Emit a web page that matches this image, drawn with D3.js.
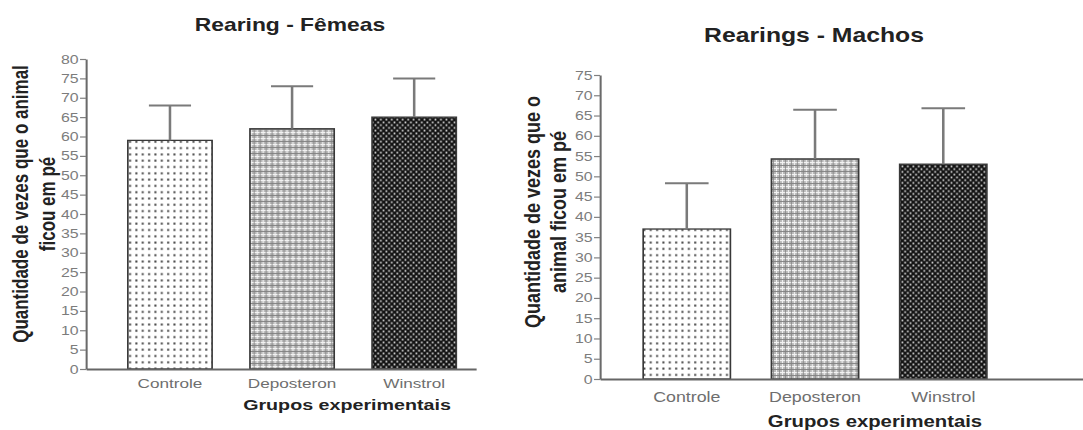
<!DOCTYPE html>
<html>
<head>
<meta charset="utf-8">
<script src="https://cdn.jsdelivr.net/npm/d3@7"></script>
<style>
    body { margin: 0; background: #fff; }
    svg { display: block; font-family: "Liberation Sans", Arial, sans-serif; }
</style>
</head>
<body>
<div id="chartContainer"></div>
<script>
// Data
const groups = ["Controle", "Deposteron", "Winstrol"];
const femeasMeans = [59, 62, 65];
const femeasErrors = [9, 11, 10];
const machosMeans = [37, 54.3, 53];
const machosErrors = [11.3, 12.1, 13.8];
const femeasTicks = d3.range(0, 81, 5);
const machosTicks = d3.range(0, 76, 5);
const fills = ["url(#pDots)", "url(#pGrid)", "url(#pCheck)"];

// The original picture is stretched sideways, so draw in a narrower
// space and let the viewBox widen it.
const width = 1083;
const height = 430;
const sx = 1.27;
const vw = width / sx;

const svg = d3.select("#chartContainer").append("svg")
    .attr("width", width)
    .attr("height", height)
    .attr("viewBox", `0 0 ${vw} ${height}`)
    .attr("preserveAspectRatio", "none");

// Fill patterns for the three groups
const defs = svg.append("defs");

const dots = defs.append("pattern")
    .attr("id", "pDots").attr("patternUnits", "userSpaceOnUse")
    .attr("width", 5).attr("height", 6.3);
dots.append("rect").attr("width", 5).attr("height", 6.3).attr("fill", "#fff");
dots.append("rect").attr("x", 1.6).attr("y", 2.2).attr("width", 1.6).attr("height", 2).attr("fill", "#474747");

const grid = defs.append("pattern")
    .attr("id", "pGrid").attr("patternUnits", "userSpaceOnUse")
    .attr("width", 4.7).attr("height", 6);
grid.append("rect").attr("width", 4.7).attr("height", 6).attr("fill", "#b8b8b8");
grid.append("rect").attr("x", 0).attr("width", 0.8).attr("height", 6).attr("fill", "#f2f2f2");
grid.append("rect").attr("y", 0).attr("width", 4.7).attr("height", 1.1).attr("fill", "#f2f2f2");
grid.append("rect").attr("x", 2.4).attr("width", 0.6).attr("height", 6).attr("fill", "#808080");
grid.append("rect").attr("y", 3.1).attr("width", 4.7).attr("height", 0.9).attr("fill", "#808080");

const check = defs.append("pattern")
    .attr("id", "pCheck").attr("patternUnits", "userSpaceOnUse")
    .attr("width", 4.3).attr("height", 5.5);
check.append("rect").attr("width", 4.3).attr("height", 5.5).attr("fill", "#141414");
check.append("rect").attr("x", 0.4).attr("y", 0.5).attr("width", 1.3).attr("height", 1.8).attr("fill", "#dcdcdc");
check.append("rect").attr("x", 2.55).attr("y", 3.25).attr("width", 1.3).attr("height", 1.8).attr("fill", "#dcdcdc");

function drawPanel(p) {
    const g = svg.append("g");

    const x = d3.scaleBand()
        .domain(groups)
        .range(p.xRange)
        .paddingInner(p.padInner)
        .paddingOuter(p.padOuter)
        .align(p.align);

    const y = d3.scaleLinear()
        .domain([0, d3.max(p.ticks)])
        .range(p.yRange);

    // Bars
    g.append("g")
        .selectAll("rect")
        .data(p.means)
        .join("rect")
        .attr("x", (d, i) => x(groups[i]))
        .attr("y", d => y(d))
        .attr("width", x.bandwidth())
        .attr("height", d => y(0) - y(d))
        .attr("fill", (d, i) => fills[i])
        .attr("stroke", "#383838")
        .attr("stroke-width", 1.3);

    // Upper error bars
    const err = g.append("g")
        .attr("stroke", "#7a7a7a")
        .attr("stroke-width", 2)
        .selectAll("g")
        .data(p.means)
        .join("g");
    err.append("line")
        .attr("x1", (d, i) => x(groups[i]) + x.bandwidth() / 2)
        .attr("x2", (d, i) => x(groups[i]) + x.bandwidth() / 2)
        .attr("y1", d => y(d))
        .attr("y2", (d, i) => y(d + p.errors[i]));
    err.append("line")
        .attr("x1", (d, i) => x(groups[i]) + x.bandwidth() / 4)
        .attr("x2", (d, i) => x(groups[i]) + x.bandwidth() * 3 / 4)
        .attr("y1", (d, i) => y(d + p.errors[i]))
        .attr("y2", (d, i) => y(d + p.errors[i]));

    // Y axis
    const yAxis = g.append("g")
        .attr("transform", `translate(${p.xRange[0]},0)`)
        .call(d3.axisLeft(y).tickValues(p.ticks).tickSize(4.7).tickSizeOuter(0).tickPadding(1.2));
    yAxis.select(".domain").attr("stroke", "#6a6a6a").attr("stroke-width", 1.6);
    yAxis.selectAll(".tick line").attr("stroke", "#808080").attr("stroke-width", 1.2);
    yAxis.selectAll(".tick text")
        .attr("fill", "#7c7c7c")
        .style("font-size", p.tickSize + "px")
        .style("font-family", "'Liberation Sans', Arial, sans-serif");

    // X axis (just the baseline and the group names)
    const xAxis = g.append("g")
        .attr("transform", `translate(0,${y(0)})`)
        .call(d3.axisBottom(x).tickSize(0).tickSizeOuter(0).tickPadding(p.xLabelPad));
    xAxis.select(".domain").attr("stroke", "#666").attr("stroke-width", 2);
    xAxis.selectAll(".tick text")
        .attr("fill", "#6e6e6e")
        .style("font-size", p.xLabelSize + "px")
        .style("font-family", "'Liberation Sans', Arial, sans-serif");

    // Titles
    g.append("text")
        .attr("x", p.titleX)
        .attr("y", p.titleY)
        .attr("text-anchor", "middle")
        .attr("font-weight", "bold")
        .attr("font-size", p.titleSize)
        .attr("fill", "#222")
        .text(p.title);

    g.append("text")
        .attr("x", p.xTitleX)
        .attr("y", p.xTitleY)
        .attr("text-anchor", "middle")
        .attr("font-weight", "bold")
        .attr("font-size", p.xTitleSize)
        .attr("fill", "#222")
        .text("Grupos experimentais");

    g.append("g")
        .selectAll("text")
        .data(p.yTitle)
        .join("text")
        .attr("transform", (d, i) => `translate(${p.yTitleX[i]},${p.yTitleY}) rotate(-90)`)
        .attr("text-anchor", "middle")
        .attr("font-weight", "bold")
        .attr("font-size", p.yTitleSize)
        .attr("fill", "#222")
        .text(d => d);
}

drawPanel({
    means: femeasMeans,
    errors: femeasErrors,
    ticks: femeasTicks,
    xRange: [86 / sx, 476 / sx],
    padInner: 0.31,
    padOuter: 0.252,
    align: 0.68,
    yRange: [369, 59],
    tickSize: 12.5,
    xLabelSize: 13.5,
    xLabelPad: 9,
    title: "Rearing - Fêmeas",
    titleX: 290 / sx,
    titleY: 31,
    titleSize: 18,
    xTitleX: 347 / sx,
    xTitleY: 410,
    xTitleSize: 15.5,
    yTitle: ["Quantidade de vezes que o animal", "ficou em pé"],
    yTitleX: [28 / sx, 55 / sx],
    yTitleY: 204,
    yTitleSize: 17
});

drawPanel({
    means: machosMeans,
    errors: machosErrors,
    ticks: machosTicks,
    xRange: [600 / sx, 1083 / sx],
    padInner: 0.32,
    padOuter: 0.543,
    align: 0.31,
    yRange: [379, 75],
    tickSize: 12.5,
    xLabelSize: 14,
    xLabelPad: 13,
    title: "Rearings - Machos",
    titleX: 814 / sx,
    titleY: 42,
    titleSize: 19.5,
    xTitleX: 875 / sx,
    xTitleY: 427,
    xTitleSize: 16,
    yTitle: ["Quantidade de vezes que o", "animal ficou em pé"],
    yTitleX: [540 / sx, 566 / sx],
    yTitleY: 212,
    yTitleSize: 18
});
</script>
</body>
</html>
